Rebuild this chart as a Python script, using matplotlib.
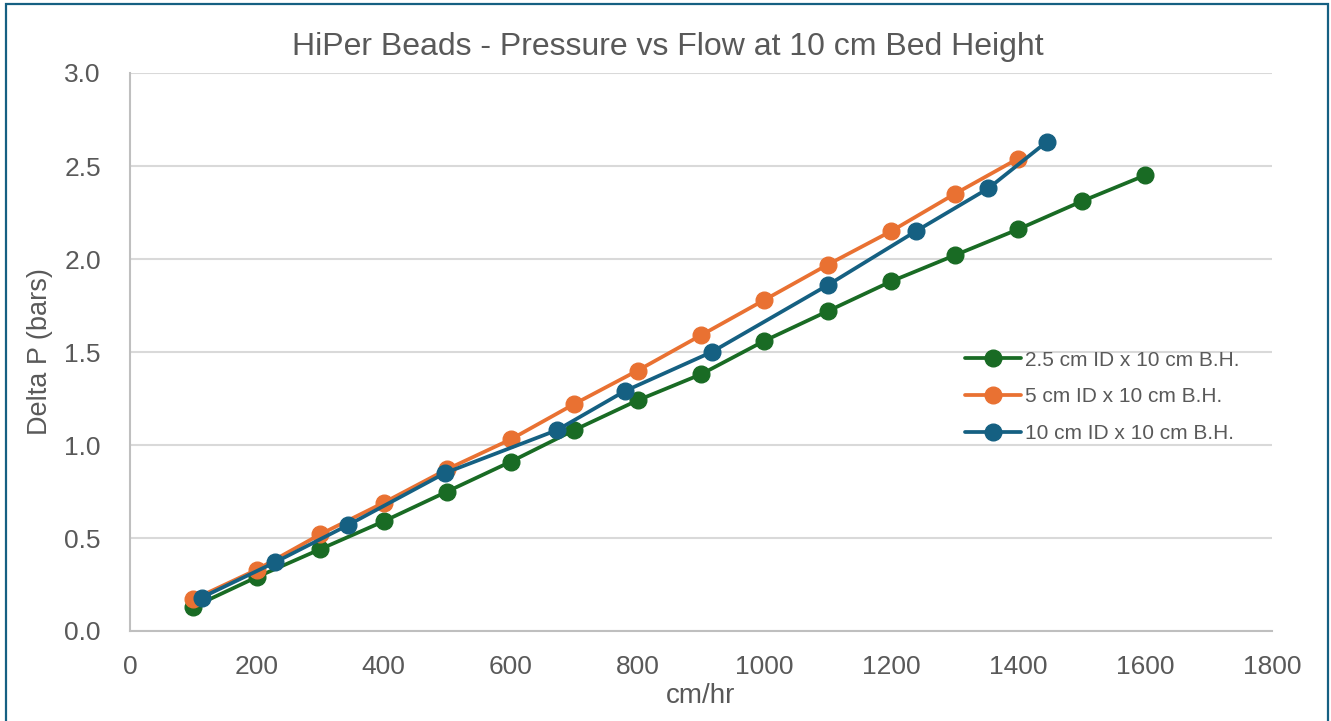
import matplotlib
matplotlib.use('Agg')
import matplotlib.pyplot as plt
from matplotlib.patches import Rectangle

# --- Donnees ---
flow_25 = [100, 200, 300, 400, 500, 600, 700, 800, 900, 1000, 1100, 1200, 1300, 1400, 1500, 1600]
dp_25 = [0.13, 0.29, 0.44, 0.59, 0.75, 0.91, 1.08, 1.24, 1.38, 1.56, 1.72, 1.88, 2.02, 2.16, 2.31, 2.45]

flow_5 = [100, 200, 300, 400, 500, 600, 700, 800, 900, 1000, 1100, 1200, 1300, 1400]
dp_5 = [0.17, 0.33, 0.52, 0.69, 0.87, 1.03, 1.22, 1.40, 1.59, 1.78, 1.97, 2.15, 2.35, 2.54]

flow_10 = [113, 229, 344, 497, 673, 780, 917, 1100, 1239, 1353, 1445]
dp_10 = [0.18, 0.37, 0.57, 0.85, 1.08, 1.29, 1.50, 1.86, 2.15, 2.38, 2.63]

labels = ["2.5 cm ID x 10 cm B.H.", "5 cm ID x 10 cm B.H.", "10 cm ID x 10 cm B.H."]
colors = ["#196B24", "#E97132", "#156082"]

x_ticks = [0, 200, 400, 600, 800, 1000, 1200, 1400, 1600, 1800]
y_ticks = [0.0, 0.5, 1.0, 1.5, 2.0, 2.5, 3.0]

TEXT = "#595959"
plt.rcParams['font.family'] = ['Liberation Sans', 'DejaVu Sans']

W, H = 1331, 721
fig = plt.figure(figsize=(W / 100, H / 100), dpi=100)
ax = fig.add_axes([130 / W, 1 - 631 / H, (1272 - 130) / W, (631 - 73) / H])

for fx, dy, lab, col in zip([flow_25, flow_5, flow_10], [dp_25, dp_5, dp_10], labels, colors):
    ax.plot(fx, dy, color=col, lw=2.7, marker='o', ms=12, label=lab, solid_capstyle='round')

ax.set_xlim(0, 1800)
ax.set_ylim(0, 3.0)
ax.set_xticks(x_ticks)
ax.set_yticks(y_ticks)
ax.set_yticklabels([f"{v:.1f}" for v in y_ticks])
ax.tick_params(length=0, labelsize=19, labelcolor=TEXT)
ax.tick_params(axis='y', pad=21)
ax.tick_params(axis='x', pad=17)
ax.grid(axis='y', color='#D9D9D9', lw=1.5)
ax.set_axisbelow(True)
for s in ['top', 'right']:
    ax.spines[s].set_visible(False)
for s in ['left', 'bottom']:
    ax.spines[s].set_color('#BFBFBF')
    ax.spines[s].set_linewidth(1.5)

ax.set_xlabel("cm/hr", fontsize=20, color=TEXT, labelpad=3)
ax.set_ylabel("Delta P (bars)", fontsize=19.5, color=TEXT, labelpad=8)
fig.text(668 / W, 1 - 47 / H, "HiPer Beads - Pressure vs Flow at 10 cm Bed Height",
         ha='center', va='center', fontsize=23, color=TEXT)

ax.legend(loc='center left', bbox_to_anchor=(965 / W, 1 - 397 / H), bbox_transform=fig.transFigure,
          frameon=False, fontsize=15, labelcolor=TEXT, handlelength=2.7, handletextpad=0.2,
          labelspacing=0.85, borderpad=0, borderaxespad=0)

# cadre autour du graphique
fig.patches.append(Rectangle((5.5 / W, -0.05), (1328 - 5.5) / W, 1.05 - 4.5 / H,
                             transform=fig.transFigure, fill=False, ec='#156082', lw=1.6))

fig.savefig("out.png", dpi=100)
